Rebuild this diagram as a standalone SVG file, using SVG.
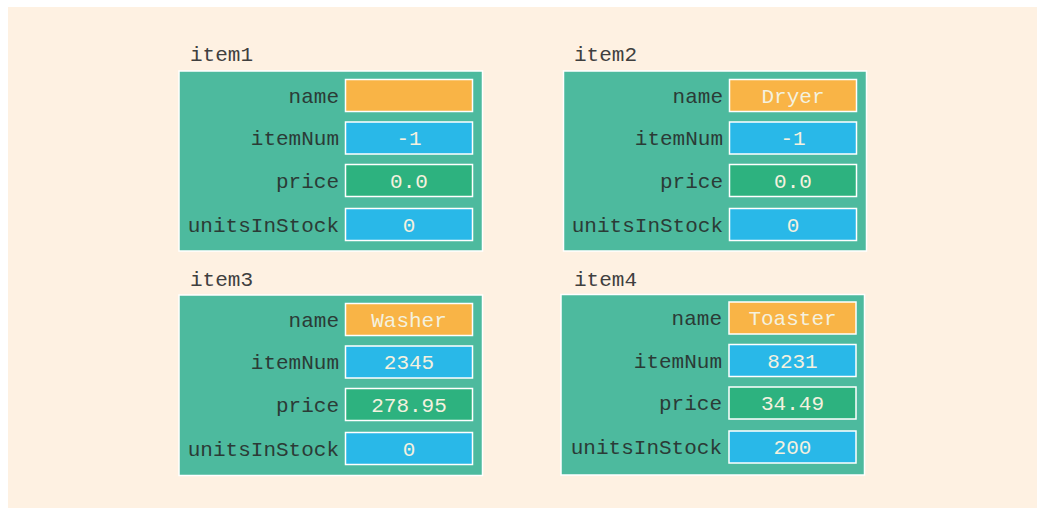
<svg xmlns="http://www.w3.org/2000/svg" width="1037" height="508" viewBox="0 0 1037 508">
<style>
.bg{fill:#fef1e2}
.outer{fill:#4dba9e;stroke:#ffffff;stroke-width:1.5}
.v{stroke:#ffffff;stroke-width:1.5}
.o{fill:#f9b446}
.b{fill:#29b8e8}
.g{fill:#2db27f}
.lbl{font-family:"Liberation Mono","Courier New",monospace;font-size:21px;fill:#2b3b36;text-anchor:end}
.val{font-family:"Liberation Mono","Courier New",monospace;font-size:21px;fill:#f4f1df;text-anchor:middle}
.ttl{font-family:"Liberation Mono","Courier New",monospace;font-size:21px;fill:#3f3f3f}
</style>
<rect class="bg" x="8" y="7" width="1029" height="501"/>
<g id="item1">
<text class="ttl" x="190" y="61">item1</text>
<rect class="outer" x="179" y="71" width="303.5" height="180"/>
<rect class="v o" x="345.5" y="79.5" width="127" height="32"/>
<rect class="v b" x="345.5" y="122" width="127" height="32"/>
<rect class="v g" x="345.5" y="164.5" width="127" height="32"/>
<rect class="v b" x="345.5" y="208.5" width="127" height="32"/>
<text class="lbl" x="339" y="102.5">name</text>
<text class="lbl" x="339" y="145">itemNum</text>
<text class="lbl" x="339" y="187.5">price</text>
<text class="lbl" x="339" y="231.5">unitsInStock</text>
<text class="val" x="409" y="145">-1</text>
<text class="val" x="409" y="187.5">0.0</text>
<text class="val" x="409" y="231.5">0</text>
</g>
<g id="item2">
<text class="ttl" x="574" y="61">item2</text>
<rect class="outer" x="563.5" y="71" width="303" height="180"/>
<rect class="v o" x="729.5" y="79.5" width="127" height="32"/>
<rect class="v b" x="729.5" y="122" width="127" height="32"/>
<rect class="v g" x="729.5" y="164.5" width="127" height="32"/>
<rect class="v b" x="729.5" y="208.5" width="127" height="32"/>
<text class="lbl" x="723" y="102.5">name</text>
<text class="lbl" x="723" y="145">itemNum</text>
<text class="lbl" x="723" y="187.5">price</text>
<text class="lbl" x="723" y="231.5">unitsInStock</text>
<text class="val" x="793" y="102.5">Dryer</text>
<text class="val" x="793" y="145">-1</text>
<text class="val" x="793" y="187.5">0.0</text>
<text class="val" x="793" y="231.5">0</text>
</g>
<g id="item3">
<text class="ttl" x="190" y="285.5">item3</text>
<rect class="outer" x="179" y="295" width="303.5" height="180.5"/>
<rect class="v o" x="345.5" y="303.5" width="127" height="32"/>
<rect class="v b" x="345.5" y="346" width="127" height="32"/>
<rect class="v g" x="345.5" y="388.5" width="127" height="32"/>
<rect class="v b" x="345.5" y="432.5" width="127" height="32"/>
<text class="lbl" x="339" y="326.5">name</text>
<text class="lbl" x="339" y="369">itemNum</text>
<text class="lbl" x="339" y="411.5">price</text>
<text class="lbl" x="339" y="455.5">unitsInStock</text>
<text class="val" x="409" y="326.5">Washer</text>
<text class="val" x="409" y="369">2345</text>
<text class="val" x="409" y="411.5">278.95</text>
<text class="val" x="409" y="455.5">0</text>
</g>
<g id="item4">
<text class="ttl" x="574" y="285.5">item4</text>
<rect class="outer" x="561" y="294.5" width="303.5" height="180.5"/>
<rect class="v o" x="729" y="302" width="127" height="32"/>
<rect class="v b" x="729" y="344.5" width="127" height="32"/>
<rect class="v g" x="729" y="387" width="127" height="32"/>
<rect class="v b" x="729" y="431" width="127" height="32"/>
<text class="lbl" x="722" y="325">name</text>
<text class="lbl" x="722" y="367.5">itemNum</text>
<text class="lbl" x="722" y="410">price</text>
<text class="lbl" x="722" y="454">unitsInStock</text>
<text class="val" x="792.5" y="325">Toaster</text>
<text class="val" x="792.5" y="367.5">8231</text>
<text class="val" x="792.5" y="410">34.49</text>
<text class="val" x="792.5" y="454">200</text>
</g>
<g id="connectors"/>
</svg>
